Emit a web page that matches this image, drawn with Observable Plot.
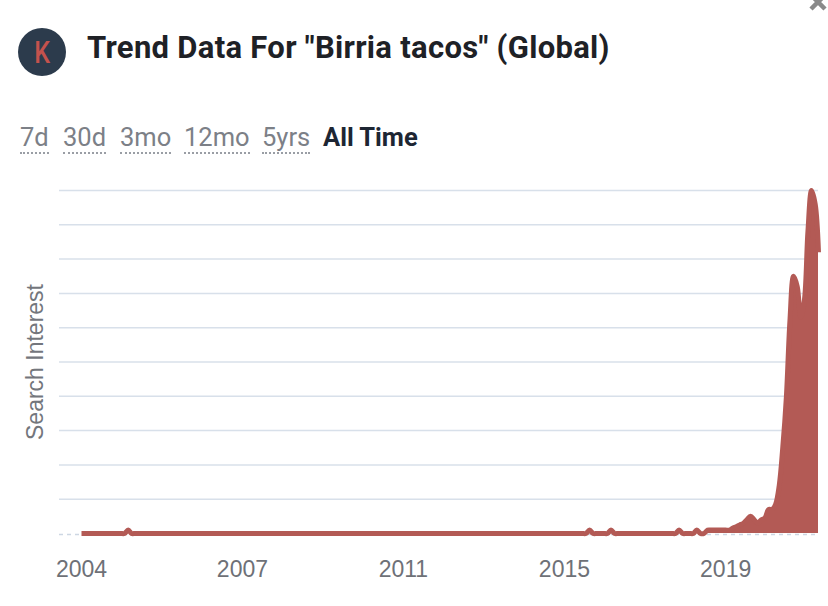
<!DOCTYPE html>
<html>
<head>
<meta charset="utf-8">
<script src="https://cdn.jsdelivr.net/npm/d3@7"></script>
<script src="https://cdn.jsdelivr.net/npm/@observablehq/plot@0.6"></script>
<style>
  html, body { margin: 0; padding: 0; background: #fff; }
  body { width: 828px; height: 606px; position: relative; overflow: hidden; font-family: Roboto, "Liberation Sans", Arial, sans-serif; }
  #logo { position: absolute; left: 18px; top: 28px; width: 48px; height: 48px; border-radius: 50%; background: #2c3b4c;
          color: #c4524d; font: 500 32px Roboto, sans-serif; text-align: center; line-height: 48px; }
  #logo span { display: inline-block; transform: scaleX(0.78); }
  #title { position: absolute; left: 87px; top: 30px; font: 700 31px Roboto, sans-serif; line-height: 36px; color: #1e2126; letter-spacing: 0.3px; white-space: nowrap; }
  .tab { position: absolute; top: 123px; font: 400 25.5px Roboto, sans-serif; color: #7c8087;
         border-bottom: 2px dotted #9a9ea5; line-height: 28px; padding-bottom: 1px; white-space: nowrap; }
  .tab.active { color: #1d2633; font-weight: 700; border-bottom: none; }
  #close { position: absolute; left: 806px; top: -6px; }
  #chart { position: absolute; left: 0; top: 170px; }
</style>
</head>
<body>
<svg id="close" width="24" height="20" viewBox="0 0 24 20"><path d="M5,1 L19,15 M19,1 L5,15" stroke="#8a8a8a" stroke-width="4.5"/></svg>
<div id="logo"><span>K</span></div>
<div id="title">Trend Data For "Birria tacos" (Global)</div>
<div id="tabs"></div>
<div id="chart"></div>
<script>
// Tabs above the chart
const tabLabels = ["7d", "30d", "3mo", "12mo", "5yrs", "All Time"];
const tabLefts = [20, 63, 120, 184, 262, 323];

// Monthly search interest, Jan 2004 .. Mar 2021 (one row per year)
const startMonth = "2004-01";
const values = [
  0,0,0,0,0,0,0,0,0,0,0,0,          // 2004
  0,1,0,0,0,0,0,0,0,0,0,0,          // 2005
  0,0,0,0,0,0,0,0,0,0,0,0,          // 2006
  0,0,0,0,0,0,0,0,0,0,0,0,          // 2007
  0,0,0,0,0,0,0,0,0,0,0,0,          // 2008
  0,0,0,0,0,0,0,0,0,0,0,0,          // 2009
  0,0,0,0,0,0,0,0,0,0,0,0,          // 2010
  0,0,0,0,0,0,0,0,0,0,0,0,          // 2011
  0,0,0,0,0,0,0,0,0,0,0,0,          // 2012
  0,0,0,0,0,0,0,0,0,0,0,0,          // 2013
  0,0,0,0,0,0,0,0,0,0,0,0,          // 2014
  0,0,0,0,0,0,0,0,0,0,1,0,          // 2015
  0,0,0,0,1,0,0,0,0,0,0,0,          // 2016
  0,0,0,0,0,0,0,0,0,0,0,1,          // 2017
  0,0,0,0,1,0,0,1,1,1,1,1,          // 2018
  1,1,1.5,2,2.5,3,4,5,4,3,4,4.5,    // 2019
  7,7,8.5,14,25,40,62,75,72,63,68,88, // 2020
  100,96,82                          // 2021
];

// Axis tick positions and labels
const tickDates = ["2004-01-01", "2007-10-01", "2011-07-01", "2015-04-01", "2019-01-01"];
const tickLabels = ["2004", "2007", "2011", "2015", "2019"];
const gridValues = [10, 20, 30, 40, 50, 60, 70, 80, 90, 100];
const yLabel = "Search Interest";

const tabs = document.getElementById("tabs");
tabLabels.forEach((t, i) => {
  const s = document.createElement("span");
  s.className = "tab" + (i === tabLabels.length - 1 ? " active" : "");
  s.style.left = tabLefts[i] + "px";
  s.textContent = t;
  tabs.appendChild(s);
});

const start = new Date(startMonth + "-01T00:00:00Z");
const data = values.map((v, i) => ({
  date: new Date(Date.UTC(start.getUTCFullYear(), start.getUTCMonth() + i, 1)),
  value: v
}));
const ticks = tickDates.map(d => new Date(d + "T00:00:00Z"));
const fmt = d => tickLabels[ticks.findIndex(t => +t === +d)];

const red = "#b35a55";
const axisFont = "Helvetica, 'Liberation Sans', Arial, sans-serif";

const chart = Plot.plot({
  width: 828,
  height: 430,
  marginLeft: 59,
  marginRight: 10,
  marginTop: 20,
  marginBottom: 67,
  style: { fontFamily: axisFont, background: "transparent", overflow: "visible" },
  x: { type: "utc", domain: [data[0].date, data[data.length - 1].date], insetLeft: 22 },
  y: { domain: [0, 100] },
  marks: [
    Plot.gridY(gridValues, { stroke: "#d8e0ea", strokeOpacity: 1, strokeWidth: 1.5 }),
    Plot.ruleY([0], { stroke: "#cdd7e3", strokeDasharray: "4,4", strokeWidth: 1.5, dy: 1 }),
    Plot.areaY(data, { x: "date", y: "value", fill: red, curve: "catmull-rom" }),
    Plot.lineY(data, { x: "date", y: "value", stroke: red, strokeWidth: 5, strokeLinecap: "butt", curve: "catmull-rom" }),
    Plot.axisX({ ticks, tickFormat: fmt, tickSize: 0, tickPadding: 27, fontSize: 23, fill: "#6e7177", label: null }),
    Plot.axisY({ ticks: [], label: null }),
    Plot.text([yLabel], { text: d => d, frameAnchor: "left", textAnchor: "middle", dx: -24, rotate: -90, fontSize: 23, fill: "#73767c" })
  ]
});
document.getElementById("chart").appendChild(chart);
</script>
</body>
</html>
